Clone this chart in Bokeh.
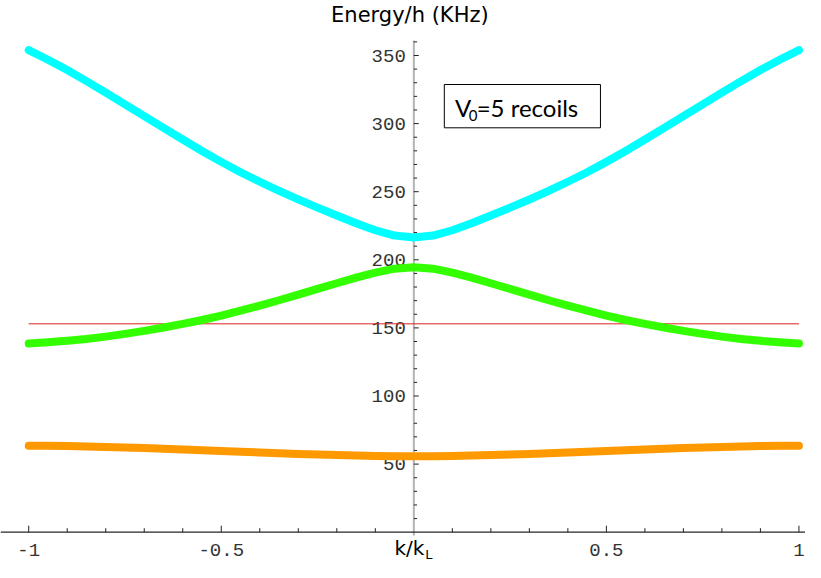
from bokeh.plotting import figure
from bokeh.models import Range1d, Span, Label, BoxAnnotation
from bokeh.embed import file_html
from bokeh.resources import INLINE
from bokeh.core.properties import value

# ---------------- data ----------------
k = [-1.0, -0.95, -0.9, -0.85, -0.8, -0.75, -0.7, -0.65, -0.6, -0.55, -0.5,
     -0.45, -0.4, -0.35, -0.3, -0.25, -0.2, -0.15, -0.1, -0.05, 0.0,
     0.05, 0.1, 0.15, 0.2, 0.25, 0.3, 0.35, 0.4, 0.45, 0.5,
     0.55, 0.6, 0.65, 0.7, 0.75, 0.8, 0.85, 0.9, 0.95, 1.0]
band1 = [63.5, 63.4, 63.2, 62.95, 62.6, 62.2, 61.75, 61.25, 60.7, 60.2, 59.65,
         59.1, 58.5, 58.0, 57.5, 57.0, 56.6, 56.3, 56.0, 55.85, 55.8,
         55.85, 56.0, 56.3, 56.6, 57.0, 57.5, 58.0, 58.5, 59.1, 59.65,
         60.2, 60.7, 61.25, 61.75, 62.2, 62.6, 62.95, 63.2, 63.4, 63.5]
band2 = [138.6, 139.4, 140.5, 141.9, 143.6, 145.6, 147.8, 150.3, 153.0, 155.8, 159.0,
         162.6, 166.3, 170.3, 174.4, 178.6, 182.8, 186.9, 190.6, 193.5, 194.6,
         193.5, 190.6, 186.9, 182.8, 178.6, 174.4, 170.3, 166.3, 162.6, 159.0,
         155.8, 153.0, 150.3, 147.8, 145.6, 143.6, 141.9, 140.5, 139.4, 138.6]
band3 = [354.0, 346.9, 339.3, 331.2, 322.7, 314.1, 305.5, 296.9, 288.3, 279.9, 271.9,
         264.3, 257.3, 250.6, 244.3, 238.3, 232.5, 226.8, 221.7, 217.8, 216.3,
         217.8, 221.7, 226.8, 232.5, 238.3, 244.3, 250.6, 257.3, 264.3, 271.9,
         279.9, 288.3, 296.9, 305.5, 314.1, 322.7, 331.2, 339.3, 346.9, 354.0]
level_k = [-1.0, 1.0]
level_e = [153.0, 153.0]

x_major = [-1.0, -0.5, 0.5, 1.0]
x_major_labels = ["-1", "-0.5", "0.5", "1"]
x_minor = [-0.9, -0.8, -0.7, -0.6, -0.4, -0.3, -0.2, -0.1,
           0.1, 0.2, 0.3, 0.4, 0.6, 0.7, 0.8, 0.9]
y_major = [50, 100, 150, 200, 250, 300, 350]
y_major_labels = ["50", "100", "150", "200", "250", "300", "350"]
y_minor = [10, 20, 30, 40, 60, 70, 80, 90, 110, 120, 130, 140, 160, 170, 180, 190,
           210, 220, 230, 240, 260, 270, 280, 290, 310, 320, 330, 340, 360]

# ---------------- layout helpers (pixel placement) ----------------
W, H = 805, 562
SX = 0.99                  # slight horizontal squeeze so the right end fits
X0, XS = 417.5, 389.0      # reference pixel of k=0, pixels per unit k
Y0, YS = 531.7, 1.362      # pixel of E=0, pixels per kHz


def kx(px):
    return (px - X0) / XS


def vy(py):
    return (Y0 - py) / YS


p = figure(width=W, height=H, output_backend="svg", toolbar_location=None,
           x_axis_type=None, y_axis_type=None,
           x_range=Range1d(kx(0), kx(W / SX)), y_range=Range1d(vy(H), vy(0)),
           min_border=0, outline_line_color=None)
p.background_fill_color = "white"
p.border_fill_color = "white"

# axes
p.add_layout(Span(location=0, dimension="width", line_color="#262626", line_width=1.3))
p.segment(x0=[0], y0=[vy(535)], x1=[0], y1=[vy(40)], line_color="#b3b3b3", line_width=2)

# ticks
p.segment(x0=x_major, y0=[0] * len(x_major), x1=x_major, y1=[6.5 / YS] * len(x_major),
          line_color="#222222", line_width=1)
p.segment(x0=x_minor, y0=[0] * len(x_minor), x1=x_minor, y1=[4.0 / YS] * len(x_minor),
          line_color="#222222", line_width=1)
p.segment(x0=[0] * len(y_major), y0=y_major, x1=[5.0 / XS] * len(y_major), y1=y_major,
          line_color="#222222", line_width=1)
p.segment(x0=[0] * len(y_minor), y0=y_minor, x1=[3.3 / XS] * len(y_minor), y1=y_minor,
          line_color="#222222", line_width=1)

# tick labels
p.text(x=[0] * len(y_major), y=y_major, text=y_major_labels, x_offset=-8,
       text_align="right", text_baseline="middle",
       text_font=value("Liberation Mono"), text_font_size="19px", text_color="#333333")
p.text(x=x_major, y=[0] * len(x_major), text=x_major_labels, y_offset=18,
       text_align="center", text_baseline="middle",
       text_font=value("Liberation Mono"), text_font_size="19px", text_color="#333333")

# curves
p.line(level_k, level_e, line_color="#dd2020", line_width=1)
p.line(k, band1, line_color="#ff9900", line_width=8, line_cap="round", line_join="round")
p.line(k, band2, line_color="#33ff00", line_width=8, line_cap="round", line_join="round")
p.line(k, band3, line_color="#00ffff", line_width=8, line_cap="round", line_join="round")


def label(x_px, y_px, text, size, font="DejaVu Sans", align="left"):
    p.add_layout(Label(x=kx(x_px), y=vy(y_px), text=text, text_align=align,
                       text_baseline="middle", text_font=font, text_font_size=size,
                       text_color="black"))


# axis titles
label(413.5, 14, "Energy/h (KHz)", "21px", align="center")
label(398, 547, "k/k", "20px")
label(429, 554, "L", "13px")

# annotation box
p.add_layout(BoxAnnotation(left=kx(448.3), right=kx(606), top=vy(84), bottom=vy(127.3),
                           fill_color=None, line_color="black", line_alpha=1.0,
                           line_width=1))
label(459, 107, "V", "24px", font="Lato")
label(473, 115, "0", "15px", font="Lato")
label(481, 107, "=5 recoils", "24px", font="Lato")

open("out.html", "w").write(file_html(p, INLINE))
